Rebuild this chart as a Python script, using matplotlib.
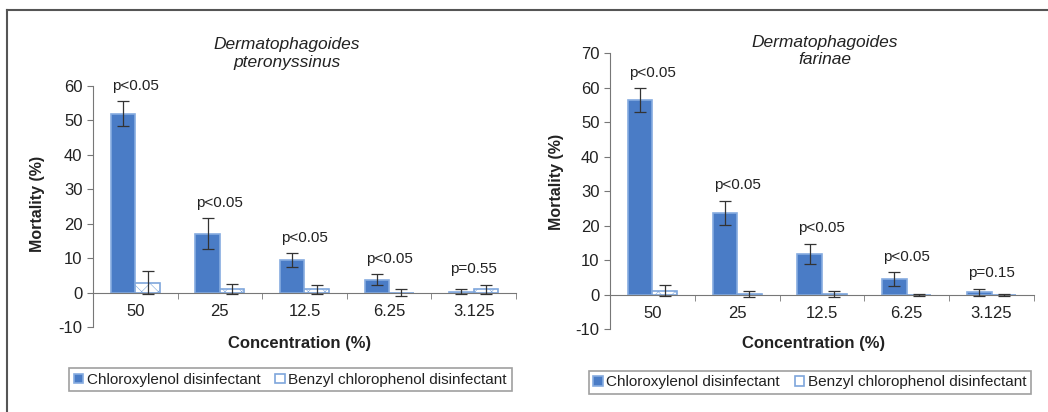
import numpy as np
import matplotlib.pyplot as plt
from matplotlib.lines import Line2D
from matplotlib.ticker import FixedLocator, MultipleLocator

plt.rcParams['font.family'] = ['Liberation Sans', 'DejaVu Sans']
plt.rcParams['axes.unicode_minus'] = False
plt.rcParams['hatch.linewidth'] = 0.4

concentrations = ["50", "25", "12.5", "6.25", "3.125"]
series_names = ["Chloroxylenol disinfectant", "Benzyl chlorophenol disinfectant"]

# D. pteronyssinus
dp_chloro = [52.0, 17.1, 9.5, 3.7, 0.3]
dp_chloro_err = [3.7, 4.5, 2.0, 1.6, 0.8]
dp_benzyl = [2.9, 1.0, 1.0, 0.0, 1.0]
dp_benzyl_err = [3.3, 1.5, 1.3, 1.1, 1.3]
dp_p = ["p<0.05", "p<0.05", "p<0.05", "p<0.05", "p=0.55"]

# D. farinae
df_chloro = [56.5, 23.7, 11.9, 4.5, 0.7]
df_chloro_err = [3.4, 3.6, 2.9, 2.0, 1.1]
df_benzyl = [1.2, 0.3, 0.3, 0.0, 0.0]
df_benzyl_err = [1.6, 0.8, 0.8, 0.3, 0.3]
df_p = ["p<0.05", "p<0.05", "p<0.05", "p<0.05", "p=0.15"]

CHLORO = '#4a7cc6'
CHLORO_EDGE = '#86ace0'
BENZ_EDGE = '#7ea6dc'
TXT = '#222222'


def draw_panel(ax, chloro, chloro_err, benzyl, benzyl_err, pvals, ymax):
    x = np.arange(len(concentrations))
    w = 0.29
    ax.bar(x - w / 2, chloro, w, color=CHLORO, edgecolor=CHLORO_EDGE, linewidth=1.2,
           label=series_names[0], zorder=2)
    ax.bar(x + w / 2, benzyl, w, color='white', edgecolor=BENZ_EDGE, linewidth=1.2,
           hatch='xx', zorder=2)
    ax.bar([0], [0], 0, color='white', edgecolor=BENZ_EDGE, linewidth=1.2,
           label=series_names[1])
    ax.errorbar(x - w / 2, chloro, yerr=chloro_err, fmt='none', ecolor='#333333',
                elinewidth=0.9, capsize=4, capthick=0.9, zorder=3)
    ax.errorbar(x + w / 2, benzyl, yerr=benzyl_err, fmt='none', ecolor='#333333',
                elinewidth=0.9, capsize=4, capthick=0.9, zorder=3)
    for i, p in enumerate(pvals):
        top = max(chloro[i] + chloro_err[i], benzyl[i] + benzyl_err[i])
        ax.annotate(p, (x[i], top), xytext=(0, 11), textcoords='offset points',
                    ha='center', va='center', fontsize=11, color=TXT)

    ax.set_xlim(-0.5, len(concentrations) - 0.5)
    ax.set_ylim(-10, ymax)
    ax.yaxis.set_major_locator(MultipleLocator(10))
    for s in ['top', 'right']:
        ax.spines[s].set_visible(False)
    ax.spines['bottom'].set_position(('data', 0))
    ax.spines['bottom'].set_color('#777777')
    ax.spines['left'].set_color('#777777')
    ax.set_xticks(x)
    ax.set_xticklabels(concentrations)
    ax.xaxis.set_minor_locator(FixedLocator(np.arange(-0.5, len(concentrations), 1.0)))
    ax.tick_params(axis='x', which='major', length=0, pad=8, labelsize=12, labelcolor=TXT)
    ax.tick_params(axis='x', which='minor', length=4, direction='out', color='#777777')
    ax.tick_params(axis='y', length=4, color='#777777', labelsize=12, labelcolor=TXT)


fig = plt.figure(figsize=(10.48, 4.12), dpi=100)
ax1 = fig.add_axes([0.0887, 0.2063, 0.4036, 0.585])
ax2 = fig.add_axes([0.582, 0.2007, 0.4046, 0.670])

draw_panel(ax1, dp_chloro, dp_chloro_err, dp_benzyl, dp_benzyl_err, dp_p, 60)
draw_panel(ax2, df_chloro, df_chloro_err, df_benzyl, df_benzyl_err, df_p, 70)

fig.text(0.274, 0.870, "Dermatophagoides\npteronyssinus", ha='center', va='center',
         style='italic', fontsize=12.5, color=TXT, linespacing=1.2)
fig.text(0.787, 0.876, "Dermatophagoides\nfarinae", ha='center', va='center',
         style='italic', fontsize=12.5, color=TXT, linespacing=1.2)

fig.text(0.036, 0.504, "Mortality (%)", rotation=90, ha='center', va='center',
         fontweight='bold', fontsize=11.5, color=TXT)
fig.text(0.531, 0.559, "Mortality (%)", rotation=90, ha='center', va='center',
         fontweight='bold', fontsize=11.5, color=TXT)
fig.text(0.286, 0.167, "Concentration (%)", ha='center', va='center',
         fontweight='bold', fontsize=12, color=TXT)
fig.text(0.776, 0.167, "Concentration (%)", ha='center', va='center',
         fontweight='bold', fontsize=12, color=TXT)

for ax, (cx, cy) in [(ax1, (0.277, 0.078)), (ax2, (0.773, 0.072))]:
    h, l = ax.get_legend_handles_labels()
    leg = fig.legend(h, l, loc='center', bbox_to_anchor=(cx, cy), ncol=2, fontsize=11,
                     frameon=True, fancybox=False, edgecolor='#888888', handlelength=0.6,
                     handleheight=0.6, handletextpad=0.25, columnspacing=1.0,
                     borderpad=0.3)
    leg.get_frame().set_linewidth(1.2)
    for t in leg.get_texts():
        t.set_color(TXT)

# outer frame lines (top and left)
fig.add_artist(Line2D([0.0067, 1.0], [0.975, 0.975], color='#555555', lw=1.5,
                      transform=fig.transFigure))
fig.add_artist(Line2D([0.0067, 0.0067], [0.0, 0.975], color='#555555', lw=1.5,
                      transform=fig.transFigure))

fig.savefig('out.png', dpi=100)
